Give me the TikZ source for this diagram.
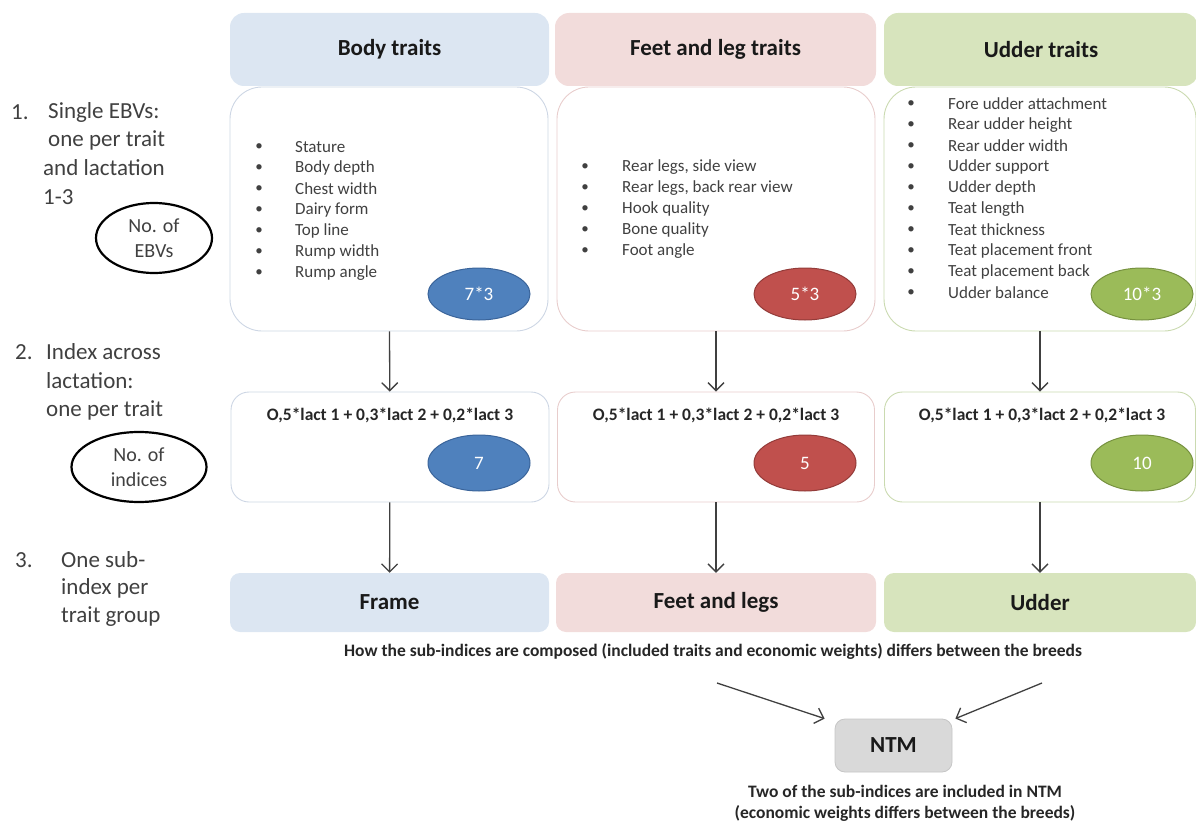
\documentclass[tikz,border=0pt]{standalone}
\usepackage{fontspec}
\setmainfont{Carlito}
\usetikzlibrary{shapes.geometric,arrows.meta}

\definecolor{bodyfill}{HTML}{DCE6F2}
\definecolor{feetfill}{HTML}{F2DCDB}
\definecolor{udderfill}{HTML}{D7E4BD}
\definecolor{bodyline}{HTML}{CDD6E4}
\definecolor{feetline}{HTML}{E8CDCC}
\definecolor{udderline}{HTML}{CADAB0}
\definecolor{bodyell}{HTML}{4F81BD}
\definecolor{bodyelld}{HTML}{3A649A}
\definecolor{feetell}{HTML}{C0504D}
\definecolor{feetelld}{HTML}{933B39}
\definecolor{udderell}{HTML}{9BBB59}
\definecolor{udderelld}{HTML}{76913F}
\definecolor{txtgray}{HTML}{404040}
\definecolor{ntmfill}{HTML}{D9D9D9}
\definecolor{ntmline}{HTML}{C6C6C6}

\tikzset{
  head/.style={rounded corners=14pt, minimum height=73pt, inner sep=0pt, text=black!90,
    font=\fontsize{23}{28}\selectfont\bfseries},
  listbox/.style={draw, line width=0.9pt, rounded corners=32pt, minimum height=244pt, inner sep=0pt},
  idxbox/.style={draw, line width=0.9pt, rounded corners=18pt, minimum height=110pt, inner sep=0pt},
  subbox/.style={rounded corners=10pt, minimum height=59pt, inner sep=0pt, text=black!90,
    font=\fontsize{23}{28}\selectfont\bfseries},
  numell/.style={ellipse, draw, line width=1pt, minimum width=102pt, inner sep=0pt, text=white,
    font=\fontsize{19}{23}\selectfont},
  item/.style={anchor=west, inner sep=0pt, text=txtgray, font=\fontsize{17}{21}\selectfont},
  dot/.style={inner sep=0pt, text=txtgray, font=\fontsize{15}{21}\selectfont},
  lbl/.style={anchor=west, inner sep=0pt, text=txtgray, font=\fontsize{23}{28}\selectfont},
  cnt/.style={ellipse, draw=black, line width=2.2pt, inner sep=0pt, align=center, text=txtgray,
    font=\fontsize{20}{25}\selectfont},
  formula/.style={inner sep=0pt, text=black!85, font=\fontsize{17.5}{21}\selectfont\bfseries},
  note/.style={inner sep=0pt, align=center, text=black!85, font=\fontsize{17.5}{21}\selectfont\bfseries},
  arr/.style={-{Straight Barb[length=8pt,width=16pt]}, line width=1.3pt, draw=txtgray},
}

\begin{document}
\begin{tikzpicture}[x=1pt,y=-1pt]
    \useasboundingbox (0,0) rectangle (1196,821);

    % Boxes with the single EBVs
    \node[listbox, draw=bodyline, minimum width=318pt] (bodylist) at (389,209) {};
    \node[listbox, draw=feetline, minimum width=318pt] (feetlist) at (716,209) {};
    \node[listbox, draw=udderline, minimum width=312pt] (udderlist) at (1040,209) {};

    % Headers of the trait groups
    \node[head, fill=bodyfill, minimum width=319pt] (bodyhead) at (389.5,49.5) {Body traits};
    \node[head, fill=feetfill, minimum width=321pt] (feethead) at (715.5,49.5) {Feet and leg traits};
    \node[head, fill=udderfill, minimum width=314pt] (udderhead) at (1041,49.5) {Udder traits};

    % Trait lists
    \foreach \t [count=\i] in {Stature, Body depth, Chest width, Dairy form, Top line, Rump width, Rump angle} {
        \node[dot] (bodydot\i) at (259,126+21*\i) {\textbullet};
        \node[item] (bodyitem\i) at (295,126+21*\i) {\t};
    }
    \foreach \t [count=\i] in {{Rear legs, side view}, {Rear legs, back rear view}, Hook quality, Bone quality, Foot angle} {
        \node[dot] (feetdot\i) at (585,146+21*\i) {\textbullet};
        \node[item] (feetitem\i) at (622,146+21*\i) {\t};
    }
    \foreach \t [count=\i] in {Fore udder attachment, Rear udder height, Rear udder width, Udder support, Udder depth,
        Teat length, Teat thickness, Teat placement front, Teat placement back, Udder balance} {
        \node[dot] (udderdot\i) at (911,83+21*\i) {\textbullet};
        \node[item] (udderitem\i) at (948,83+21*\i) {\t};
    }

    % Number of EBVs
    \node[numell, fill=bodyell, draw=bodyelld, minimum height=52pt] (bodyn1) at (479,294) {7*3};
    \node[numell, fill=feetell, draw=feetelld, minimum height=52pt] (feetn1) at (805,294) {5*3};
    \node[numell, fill=udderell, draw=udderelld, minimum height=52pt] (uddern1) at (1142,294) {10*3};

    % Index across lactation
    \node[idxbox, draw=bodyline, minimum width=318pt] (bodyidx) at (390,447) {};
    \node[idxbox, draw=feetline, minimum width=317pt] (feetidx) at (716,447) {};
    \node[idxbox, draw=udderline, minimum width=311pt] (udderidx) at (1040,447) {};
    \node[formula] (bodyf) at (390,415) {O,5*lact 1 + 0,3*lact 2 + 0,2*lact 3};
    \node[formula] (feetf) at (716,415) {O,5*lact 1 + 0,3*lact 2 + 0,2*lact 3};
    \node[formula] (udderf) at (1042,415) {O,5*lact 1 + 0,3*lact 2 + 0,2*lact 3};
    \node[numell, fill=bodyell, draw=bodyelld, minimum height=56pt] (bodyn2) at (479,463) {7};
    \node[numell, fill=feetell, draw=feetelld, minimum height=56pt] (feetn2) at (805,463) {5};
    \node[numell, fill=udderell, draw=udderelld, minimum height=56pt] (uddern2) at (1142,463) {10};

    % Sub-indices
    \node[subbox, fill=bodyfill, minimum width=319pt] (frame) at (389.5,602.5) {Frame};
    \node[subbox, fill=feetfill, minimum width=320pt] (feetlegs) at (716,602.5) {Feet and legs};
    \node[subbox, fill=udderfill, minimum width=312pt] (udder) at (1040,602.5) {Udder};

    % Arrows down each column
    \draw[arr] (bodylist) -- (bodyidx);
    \draw[arr] (feetlist) -- (feetidx);
    \draw[arr] (udderlist) -- (udderidx);
    \draw[arr] (bodyidx) -- (frame);
    \draw[arr] (feetidx) -- (feetlegs);
    \draw[arr] (udderidx) -- (udder);

    % Step labels on the left
    \node[lbl] (num1) at (11,112) {1.};
    \node[lbl] (step1a) at (48,112) {Single EBVs:};
    \node[lbl] (step1b) at (48,140) {one per trait};
    \node[lbl] (step1c) at (43,168) {and lactation};
    \node[lbl] (step1d) at (43,197) {1-3};
    \node[cnt, minimum width=116pt, minimum height=70pt] (cntebv) at (154,238) {No. of\\EBVs};

    \node[lbl] (num2) at (15,352) {2.};
    \node[lbl] (step2a) at (46,352) {Index across};
    \node[lbl] (step2b) at (46,381) {lactation:};
    \node[lbl] (step2c) at (46,410) {one per trait};
    \node[cnt, minimum width=135pt, minimum height=70pt] (cntidx) at (139,467) {No. of\\indices};

    \node[lbl] (num3) at (15,560) {3.};
    \node[lbl] (step3a) at (61,560) {One sub-};
    \node[lbl] (step3b) at (61,588) {index per};
    \node[lbl] (step3c) at (61,617) {trait group};

    % NTM at the bottom
    \node[note] (hownote) at (713,651) {How the sub-indices are composed (included traits and economic weights) differs between the breeds};
    \node[subbox, fill=ntmfill, draw=ntmline, line width=0.8pt, minimum width=117pt, minimum height=53pt] (ntm) at (893.5,745.5) {NTM};
    \node[note] (ntmnote) at (905,803) {Two of the sub-indices are included in NTM\\(economic weights differs between the breeds)};
    \coordinate (feetstart) at (717,683);
    \coordinate (udderstart) at (1042,683);
    \draw[arr] (feetstart) -- ([xshift=-10pt]ntm.north west);
    \draw[arr] (udderstart) -- ([xshift=3pt]ntm.north east);

\end{tikzpicture}
\end{document}
